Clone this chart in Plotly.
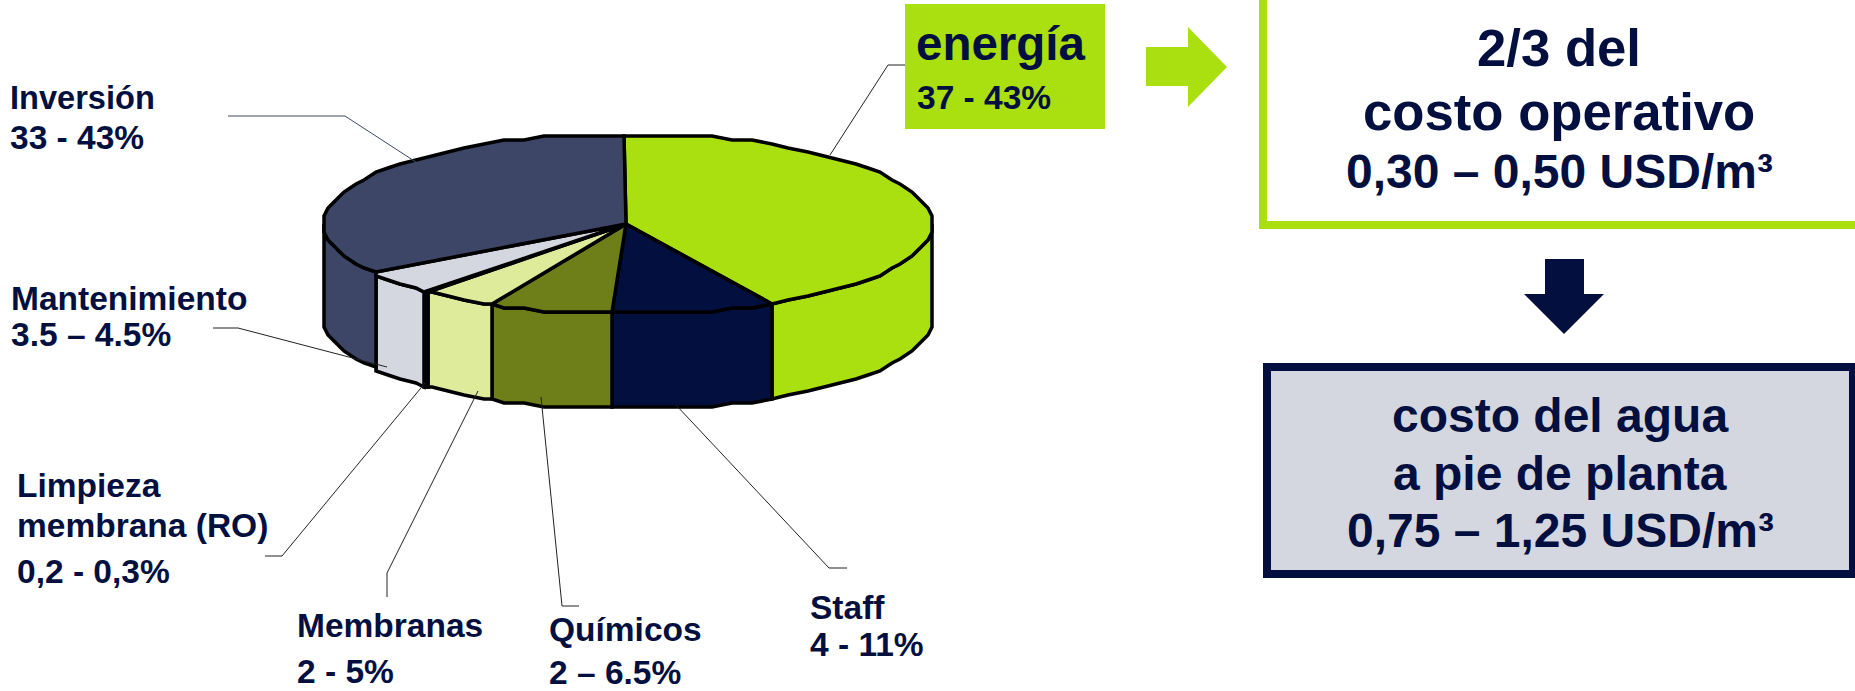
import math
import plotly.graph_objects as go

# Cost shares of a desalination plant, clockwise from twelve o'clock
slice_names = ["energía", "Staff", "Químicos", "Membranas", "Limpieza membrana (RO)", "Mantenimiento", "Inversión"]
slice_values = [42.2, 8.6, 6.5, 4.1, 0.3, 4.0, 34.3]
slice_colors = ["#AADF10", "#03103F", "#6E7F1A", "#DDEB9A", "#000000", "#D5D7E0", "#3E4668"]

# Callout text: (text, left x, middle y, font size)
callouts = [
    ("Inversión", 8, 97, 32.6), ("33 - 43%", 8, 137, 33.5),
    ("Mantenimiento", 9, 298, 33.5), ("3.5 – 4.5%", 9, 334, 33.5),
    ("Limpieza", 15, 485, 33.5), ("membrana (RO)", 15, 525, 33.5), ("0,2 - 0,3%", 15, 571, 33.5),
    ("Membranas", 295, 625, 33.5), ("2 - 5%", 295, 671, 33.5),
    ("Químicos", 547, 629, 33.5), ("2 – 6.5%", 547, 672, 33.5),
    ("Staff", 808, 607, 33.5), ("4 - 11%", 808, 644, 33.5),
    ("energía", 914, 43, 47.5), ("37 - 43%", 915, 97, 33.5),
]
# Centred box text: (text, centre x, middle y, font size)
box_lines = [
    ("2/3 del", 1559, 47, 52.7), ("costo operativo", 1559, 111, 52.7),
    ("0,30 – 0,50 USD/m³", 1559, 171, 48),
    ("costo del agua", 1560, 415, 48), ("a pie de planta", 1560, 473, 48),
    ("0,75 – 1,25 USD/m³", 1560, 530, 48),
]
# Leader lines from each callout to its slice
leaders = [
    ([228, 345, 422], [116, 116, 166], "#3E4668"),
    ([905, 888, 830], [65, 65, 155], "#222222"),
    ([213, 238, 387], [328, 328, 367], "#222222"),
    ([265, 282, 425], [556, 556, 383], "#222222"),
    ([387, 387, 478], [597, 573, 391], "#222222"),
    ([579, 562, 541], [606, 606, 397], "#222222"),
    ([847, 829, 676], [568, 568, 405], "#222222"),
]

NAVY = "#03103F"
GREEN = "#AADF10"
CX, CY, RX_LEFT, RX_RIGHT, RY, DEPTH = 626, 224, 302, 307, 90, 95
GRID = 4


def snap(v):
    return GRID * round(v / GRID)


def rim(theta, drop=0):
    a = math.radians(theta)
    s = math.sin(a)
    rx = RX_RIGHT if s > 0 else RX_LEFT
    return snap(CX + rx * s), snap(CY - RY * math.cos(a)) + drop


def arc(start, end):
    steps = [t for t in range(0, 361, 4) if start < t < end]
    return [start] + steps + [end]


fig = go.Figure()
bounds = [0]
for v in slice_values:
    bounds.append(bounds[-1] + v * 3.6)


def add_poly(points, color):
    xs, ys = zip(*points)
    fig.add_trace(go.Scatter(
        x=list(xs) + [xs[0]], y=list(ys) + [ys[0]], mode="lines", fill="toself",
        fillcolor=color, line=dict(color="black", width=3.5, simplify=False), hoverinfo="skip",
    ))


# Side walls: only the part of each slice facing the viewer
for i, color in enumerate(slice_colors):
    start, end = max(bounds[i], 90), min(bounds[i + 1], 270)
    if start < end:
        angles = arc(start, end)
        upper = [rim(t) for t in angles]
        lower = [rim(t, DEPTH) for t in reversed(angles)]
        add_poly(upper + lower, color)

# Top faces
for i, color in enumerate(slice_colors):
    add_poly([(CX, CY)] + [rim(t) for t in arc(bounds[i], bounds[i + 1])], color)

for xs, ys, color in leaders:
    fig.add_trace(go.Scatter(x=xs, y=ys, mode="lines", line=dict(color=color, width=1), hoverinfo="skip"))

annotations = []
for text, x, y, size in callouts:
    annotations.append(dict(x=x, y=y, text=f"<b>{text}</b>", xanchor="left", yanchor="middle",
                            showarrow=False, font=dict(size=size, color=NAVY)))
for text, x, y, size in box_lines:
    annotations.append(dict(x=x, y=y, text=f"<b>{text}</b>", xanchor="center", yanchor="middle",
                            showarrow=False, font=dict(size=size, color=NAVY)))

shapes = [
    dict(type="rect", x0=905, x1=1105, y0=4, y1=129, fillcolor=GREEN, line=dict(width=0), layer="below"),
    dict(type="path", path="M1146,47 L1188,47 L1188,27 L1227,67 L1188,107 L1188,86 L1146,86 Z",
         fillcolor=GREEN, line=dict(width=0), layer="below"),
    dict(type="rect", x0=1263, x1=1880, y0=-20, y1=225, fillcolor="white",
         line=dict(color=GREEN, width=8), layer="below"),
    dict(type="path", path="M1545,259 L1584,259 L1584,294 L1604,294 L1564,334 L1524,294 L1545,294 Z",
         fillcolor=NAVY, line=dict(width=0), layer="below"),
    dict(type="rect", x0=1267, x1=1853, y0=367, y1=574, fillcolor="#D5D7E0",
         line=dict(color=NAVY, width=8), layer="below"),
]

fig.update_layout(
    width=1855, height=691, autosize=False, showlegend=False,
    margin=dict(l=0, r=0, t=0, b=0), paper_bgcolor="white", plot_bgcolor="white",
    font=dict(family="Liberation Sans, Arial, sans-serif"),
    xaxis=dict(range=[0, 1855], visible=False, fixedrange=True),
    yaxis=dict(range=[691, 0], visible=False, fixedrange=True),
    shapes=shapes, annotations=annotations,
)
fig.write_html("out.html", config=dict(displayModeBar=False))
